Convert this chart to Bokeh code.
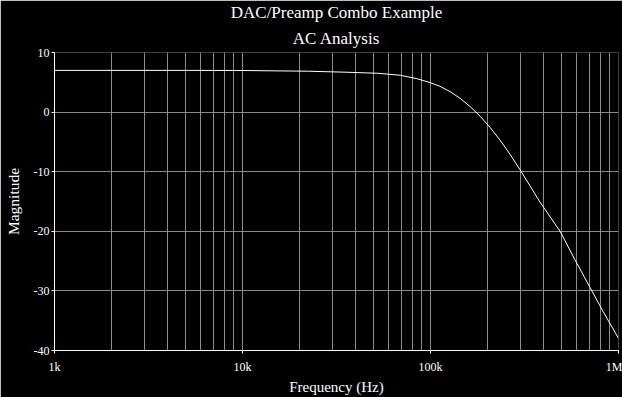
from bokeh.plotting import figure
from bokeh.models import FixedTicker, Range1d, Title
from bokeh.embed import file_html
from bokeh.resources import INLINE

# ---- data ----
freq_hz = [1e3, 2e3, 5e3, 1e4, 2.24e4, 3.56e4, 5.2e4, 6.89e4, 8.45e4, 9.95e4,
           1.125e5, 1.27e5, 1.436e5, 1.623e5, 1.835e5, 2.075e5, 2.345e5, 2.65e5,
           2.995e5, 3.82e5, 4.89e5, 5.86e5, 7.05e5, 8.26e5, 1e6]
magnitude_db = [7.0, 7.0, 7.0, 6.98, 6.86, 6.69, 6.52, 6.19, 5.62, 4.95,
                4.32, 3.44, 2.32, 0.94, -0.69, -2.58, -4.71, -7.09,
                -9.68, -15.08, -20.0, -24.75, -29.4, -33.4, -37.96]

x_tick_values = [1e3, 1e4, 1e5, 1e6]
x_tick_labels = ["1k", "10k", "100k", "1M"]
x_minor_multipliers = [2, 3, 4, 5, 6, 7, 8, 9]
y_tick_values = [-40, -30, -20, -10, 0, 10]
y_tick_labels = ["-40", "-30", "-20", "-10", "0", "10"]

title_line1 = "DAC/Preamp Combo Example"
title_line2 = "AC Analysis"
x_label = "Frequency (Hz)"
y_label = "Magnitude"

FONT = "Liberation Serif"
GRID = "#8a8a8a"

p = figure(width=622, height=397, x_axis_type="log",
           x_range=Range1d(1e3, 1e6), y_range=Range1d(-40, 10),
           output_backend="svg", toolbar_location=None,
           background_fill_color="black", border_fill_color="black",
           outline_line_color=None,
           min_border_left=54, min_border_right=4,
           min_border_top=52, min_border_bottom=47)
p.title.text = ""

minor = [m * d for d in x_tick_values[:-1] for m in x_minor_multipliers]
xt = FixedTicker(ticks=x_tick_values, minor_ticks=minor)
yt = FixedTicker(ticks=y_tick_values, minor_ticks=[])
p.xaxis.ticker = xt
p.yaxis.ticker = yt
p.xgrid.ticker = xt
p.ygrid.ticker = yt

p.xaxis.major_label_overrides = {v: l for v, l in zip(x_tick_values, x_tick_labels)}
p.yaxis.major_label_overrides = {v: l for v, l in zip(y_tick_values, y_tick_labels)}

for ax in (p.xaxis, p.yaxis):
    ax.axis_line_color = "white"
    ax.axis_line_width = 1
    ax.major_tick_line_color = "white"
    ax.major_tick_in = 0
    ax.major_tick_out = 3
    ax.minor_tick_line_color = None
    ax.major_label_text_color = "white"
    ax.major_label_text_font = FONT
    ax.major_label_text_font_size = "12px"
    ax.axis_label_text_color = "white"
    ax.axis_label_text_font = FONT
    ax.axis_label_text_font_style = "normal"

p.xaxis.axis_label = x_label
p.xaxis.axis_label_text_font_size = "15px"
p.xaxis.major_label_standoff = 5
p.xaxis.axis_label_standoff = 2
p.yaxis.axis_label = y_label
p.yaxis.axis_label_text_font_size = "15.5px"
p.yaxis.major_label_standoff = 2
p.yaxis.axis_label_standoff = 9

p.xgrid.grid_line_color = GRID
p.xgrid.minor_grid_line_color = GRID
p.ygrid.grid_line_color = GRID

p.line(freq_hz, magnitude_db, line_color="white", line_width=1)

p.add_layout(Title(text=title_line2, align="center", text_color="white",
                   text_font=FONT, text_font_size="17px",
                   text_font_style="normal", standoff=10), "above")
p.add_layout(Title(text=title_line1, align="center", text_color="white",
                   text_font=FONT, text_font_size="17px",
                   text_font_style="normal", standoff=0), "above")

open("out.html", "w").write(file_html(p, INLINE))
